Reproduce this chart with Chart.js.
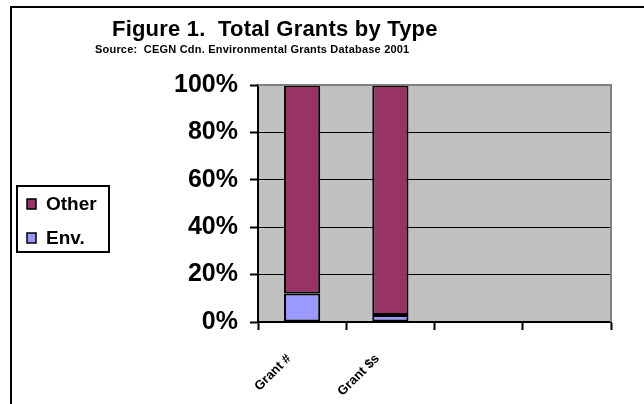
<!DOCTYPE html>
<html>
<head>
<meta charset="utf-8">
<script src="https://cdn.jsdelivr.net/npm/chart.js@4"></script>
<style>
  html, body { margin: 0; padding: 0; background: #ffffff; }
  #wrap { width: 644px; height: 404px; }
</style>
</head>
<body>
<div id="wrap"><canvas id="c" width="644" height="404"></canvas></div>
<script>
// Chart content
const categories = ['Grant #', 'Grant $s', '', ''];
const envShare = [12, 3, null, null];
const otherShare = [88, 97, null, null];
const yTicks = [0, 20, 40, 60, 80, 100];
const titleText = 'Figure 1.  Total Grants by Type';
const sourceText = 'Source:  CEGN Cdn. Environmental Grants Database 2001';

const FONT = '"Liberation Sans", Arial, sans-serif';

// Frame, plot background, headings and boxed legend
const decor = {
  id: 'decor',
  beforeDraw(chart) {
    const { ctx, chartArea: a } = chart;
    ctx.save();
    ctx.fillStyle = '#C0C0C0';
    ctx.fillRect(a.left, a.top, a.right - a.left, a.bottom - a.top);
    ctx.restore();
  },
  afterDraw(chart) {
    const { ctx, chartArea: a } = chart;
    ctx.save();
    // plot border (top and right)
    ctx.strokeStyle = '#808080';
    ctx.lineWidth = 2;
    ctx.beginPath();
    ctx.moveTo(a.left, a.top);
    ctx.lineTo(a.right, a.top);
    ctx.lineTo(a.right, a.bottom);
    ctx.stroke();

    // outer frame
    ctx.strokeStyle = '#000';
    ctx.lineWidth = 2;
    ctx.beginPath();
    ctx.moveTo(11, 404);
    ctx.lineTo(11, 7);
    ctx.lineTo(644, 7);
    ctx.stroke();

    // headings
    ctx.fillStyle = '#000';
    ctx.textBaseline = 'alphabetic';
    ctx.textAlign = 'left';
    ctx.font = 'bold 22px ' + FONT;
    ctx.letterSpacing = '0.2px';
    ctx.fillText(titleText, 112, 36);
    ctx.font = 'bold 11px ' + FONT;
    ctx.letterSpacing = '0.2px';
    ctx.fillText(sourceText, 95, 53);
    ctx.letterSpacing = '0px';

    // legend box
    ctx.lineWidth = 2;
    ctx.strokeStyle = '#000';
    ctx.strokeRect(17, 186, 92, 66);
    const items = chart.data.datasets.slice().reverse();
    const rows = [210, 244];
    items.forEach((ds, i) => {
      const y = rows[i];
      ctx.fillStyle = ds.backgroundColor;
      ctx.fillRect(27, y - 11, 9, 10);
      ctx.lineWidth = 1.5;
      ctx.strokeRect(27, y - 11, 9, 10);
      ctx.fillStyle = '#000';
      ctx.font = 'bold 19px ' + FONT;
      ctx.fillText(ds.label, 46, y);
    });
    ctx.restore();
  }
};

new Chart(document.getElementById('c'), {
  type: 'bar',
  data: {
    labels: categories,
    datasets: [
      {
        label: 'Env.',
        data: envShare,
        backgroundColor: '#9999FF',
        borderColor: '#000000',
        borderWidth: 2,
        borderSkipped: false
      },
      {
        label: 'Other',
        data: otherShare,
        backgroundColor: '#993366',
        borderColor: '#000000',
        borderWidth: 2,
        borderSkipped: false
      }
    ]
  },
  options: {
    responsive: false,
    animation: false,
    devicePixelRatio: 1,
    layout: { padding: { top: 85, right: 33, left: 0, bottom: 0 } },
    datasets: { bar: { categoryPercentage: 1, barPercentage: 0.41 } },
    plugins: {
      legend: { display: false },
      title: { display: false },
      tooltip: { enabled: false }
    },
    scales: {
      x: {
        stacked: true,
        offset: true,
        afterFit(scale) { scale.height = 82; },
        grid: {
          offset: true,
          drawOnChartArea: false,
          drawTicks: true,
          tickLength: 8,
          tickColor: '#000',
          tickWidth: 2
        },
        border: { color: '#000', width: 2 },
        ticks: {
          maxRotation: 45,
          minRotation: 45,
          padding: 21,
          labelOffset: -13,
          color: '#000',
          font: { family: FONT, size: 13, weight: 'bold' }
        }
      },
      y: {
        stacked: true,
        min: 0,
        max: 100,
        afterFit(scale) { scale.width = 258; },
        afterBuildTicks(scale) { scale.ticks = yTicks.map(v => ({ value: v })); },
        grid: {
          color: ctx => (ctx.tick && ctx.tick.value === 100 ? '#808080' : '#000'),
          lineWidth: 1,
          tickLength: 8,
          tickColor: '#000',
          tickWidth: 2
        },
        border: { color: '#000', width: 2 },
        ticks: {
          padding: 12,
          color: '#000',
          font: { family: FONT, size: 25, weight: 'bold' },
          callback: v => v + '%'
        }
      }
    }
  },
  plugins: [decor]
});
</script>
</body>
</html>
